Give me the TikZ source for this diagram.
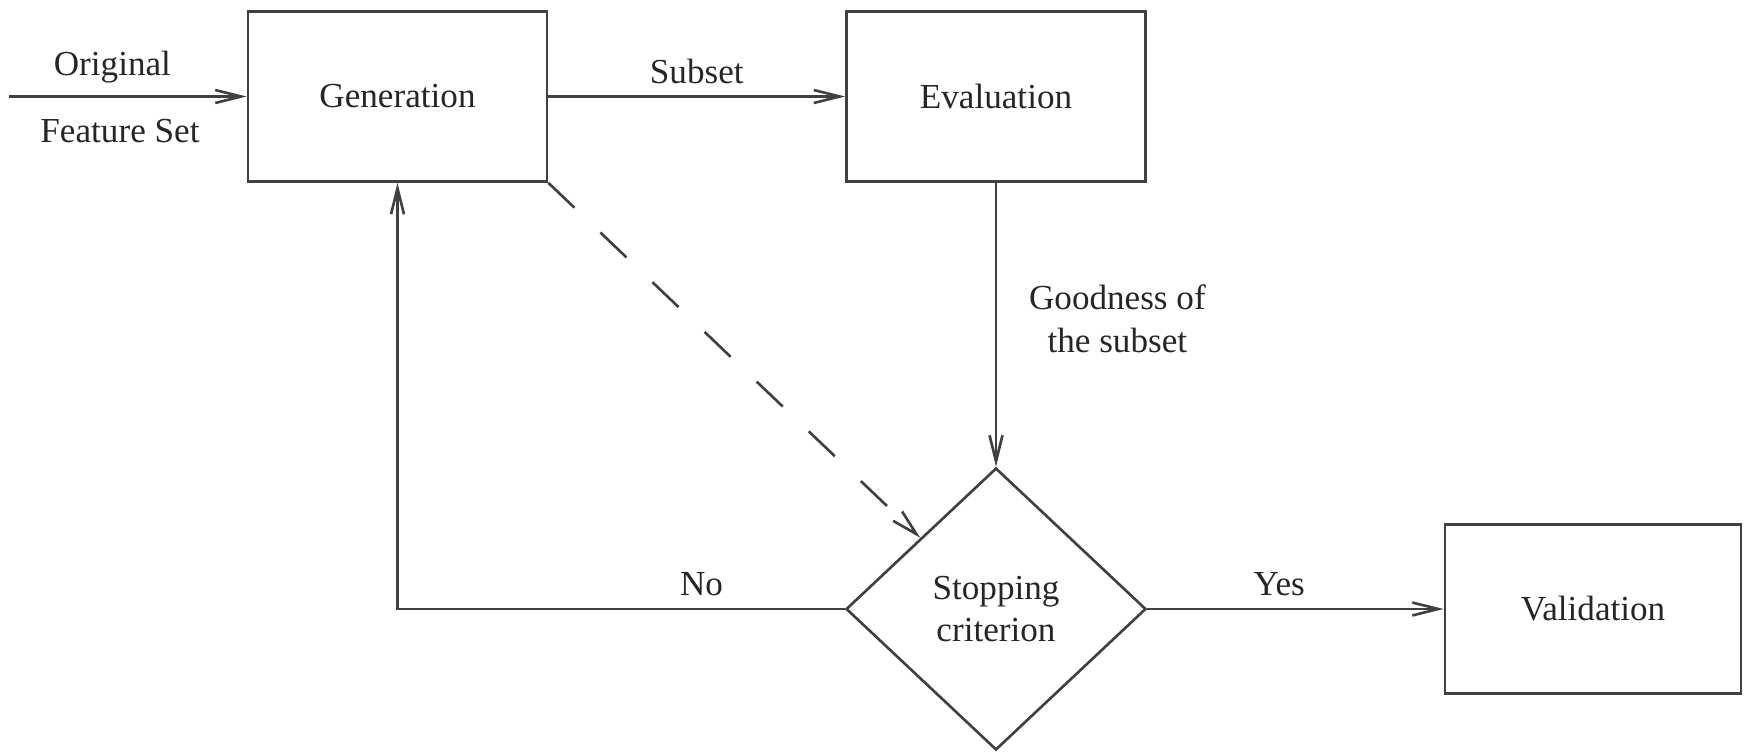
\documentclass[tikz,border=0pt]{standalone}
\usepackage{fontspec}
\setmainfont{Liberation Serif}
\usetikzlibrary{arrows.meta,positioning,shapes,calc}

\begin{document}
\begin{tikzpicture}[line width=0.75pt, font=\fontsize{10}{12.2}\selectfont]

   \tikzstyle{block}=[rectangle, draw=black!75, text=black!85, minimum width=2.99cm, minimum height=1.70cm]
   \tikzstyle{test}=[diamond, draw=black!75, text=black!85, align=center, inner sep=0pt, minimum width=3cm, minimum height=2.82cm]
   \tikzstyle{flow}=[draw=black!75, -{Straight Barb[length=2.6mm, width=1.3mm]}]
   \tikzstyle{lbl}=[text=black!85]

   \useasboundingbox (0,0) rectangle (17.5,-7.54);

   \coordinate (src) at (0.09,-0.965);
   \node[block] (gen)   at (3.975,-0.965) {Generation};
   \node[block] (eval)  at (9.96,-0.965)  {Evaluation};
   \node[test]  (stop)  at (9.96,-6.09)   {Stopping\\criterion};
   \node[block, minimum width=2.96cm, minimum height=1.69cm] (valid) at (15.93,-6.09) {Validation};

   % main flow
   \draw[flow] (src) -- node[lbl, above, pos=0.435] {Original}
                        node[lbl, below=1mm, pos=0.467] {Feature Set} (gen);
   \draw[flow] (gen) -- node[lbl, above] {Subset} (eval);
   \draw[flow] (eval.south) -- node[lbl, right=2mm, align=center, pos=0.48] {Goodness of\\the subset} (stop.north);
   \draw[flow] (stop.east) -- node[lbl, above, pos=0.445] {Yes} (valid.west);

   % loop back
   \draw[flow] (stop.west) -| node[lbl, above, pos=0.16] {No} (gen.south);
   \draw[flow, dash pattern=on 0.36cm off 0.36cm] (gen.south east) -- ($(stop.west)!0.5!(stop.north)$);
\end{tikzpicture}
\end{document}
